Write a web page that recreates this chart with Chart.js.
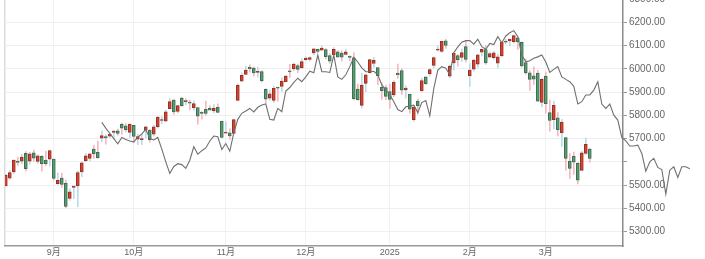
<!DOCTYPE html>
<html>
<head>
<meta charset="utf-8">
<script src="https://cdn.jsdelivr.net/npm/chart.js@4/dist/chart.umd.min.js"></script>
<style>
  html, body { margin: 0; padding: 0; background: #fff; }
  #wrap { width: 705px; height: 259px; }
</style>
</head>
<body>
<div id="wrap"><canvas id="chart" width="705" height="259"></canvas></div>
<script>
// daily candles, 2024-08-15 .. 2025-03-18 (one per trading day)
const opens = [5496,5530,5557,5603,5603,5637,5603,5639,5602,5624,5607,5612,5612,5506,5530,5507,5443,5490,5496,5557,5605,5615,5655,5641,5702,5709,5711,5727,5733,5762,5755,5727,
  5757,5698,5696,5737,5737,5719,5751,5778,5775,5829,5866,5817,5875,5859,5857,5833,5834,5813,5826,5831,5819,5835,5775,
  5723,5725,5722,5864,5947,5976,6008,6004,5985,5989,5912,5874,5864,5919,5925,5945,5992,6000,6015,6004,
  6040,6041,6069,6085,6081,6083,6058,6061,6074,6068,6063,6052,6048,5913,5843,5938,5984,6024,6006,5921,5920,
  5903,5888,5982,5993,5910,5891,5782,5862,5905,5966,5980,6015,6081,6076,6121,5969,6026,6058,6050,6096,
  5970,5999,6021,6072,6083,6051,6049,6025,6057,6116,6121,6117,6134,6115,6027,5983,5970,5982,5856,
  5969,5812,5782,5790,5726,5705,5603,5624,5594,5563,5636,5655];
const highs = [5546,5563,5608,5620,5633,5644,5641,5651,5631,5627,5646,5651,5612,5552,5551,5522,5484,5497,5561,5600,5636,5636,5671,5690,5733,5716,5725,5736,5741,5767,5765,5763,
  5757,5720,5718,5753,5739,5757,5796,5795,5822,5872,5870,5844,5878,5872,5866,5863,5835,5817,5862,5842,5847,5850,5775,
  5772,5742,5784,5936,5983,6012,6018,6009,6008,5993,5915,5909,5925,5922,5962,5972,6020,6025,6021,6044,
  6053,6052,6089,6085,6099,6088,6066,6092,6079,6078,6085,6057,6070,5935,5982,5978,6040,6049,6006,5941,5929,
  5935,5950,6021,6001,5928,5891,5837,5871,5960,5965,6002,6052,6100,6119,6128,6018,6070,6062,6086,6121,
  6023,6042,6062,6084,6101,6073,6076,6064,6116,6127,6129,6147,6134,6116,6043,5993,6009,5994,5959,
  5987,5866,5861,5812,5783,5706,5636,5642,5597,5645,5703,5659];
const lows = [5496,5525,5550,5585,5591,5560,5590,5602,5593,5560,5583,5581,5521,5503,5490,5402,5434,5441,5406,5536,5601,5604,5615,5615,5686,5676,5704,5698,5714,5719,5729,5704,
  5682,5674,5674,5703,5684,5710,5745,5764,5775,5829,5804,5810,5840,5846,5824,5822,5762,5784,5799,5823,5811,5811,5703,
  5723,5697,5722,5864,5947,5976,5986,5969,5965,5944,5853,5865,5855,5861,5903,5945,5963,5992,5984,6004,
  6035,6034,6061,6070,6079,6043,6024,6061,6051,6034,6060,6035,5867,5866,5832,5902,5982,6007,5932,5869,5868,
  5830,5880,5960,5890,5874,5809,5774,5805,5905,5933,5970,6006,6076,6071,6089,5962,5995,6012,6032,6030,
  5924,5991,6007,6056,6020,6049,6042,6004,6051,6108,6100,6111,6084,6008,5977,5908,5933,5859,5837,
  5810,5732,5742,5711,5666,5564,5528,5546,5505,5563,5631,5598];
const closes = [5543,5554,5608,5597,5621,5571,5634,5616,5626,5592,5592,5648,5529,5520,5503,5408,5471,5496,5554,5596,5626,5634,5635,5618,5713,5703,5718,5732,5722,5745,5738,5762,
  5709,5709,5699,5751,5696,5751,5792,5780,5815,5859,5815,5842,5841,5864,5853,5851,5797,5809,5808,5823,5832,5813,5705,
  5728,5712,5782,5929,5973,5995,6001,5983,5985,5949,5870,5893,5917,5917,5948,5969,5987,6021,5998,6032,
  6047,6049,6087,6075,6090,6053,6034,6084,6051,6051,6074,6050,5872,5867,5931,5975,6040,6037,5971,5907,5882,
  5869,5942,5975,5909,5918,5827,5836,5842,5950,5937,5997,6049,6086,6119,6101,6012,6067,6039,6071,6041,
  5995,6038,6061,6084,6026,6066,6069,6052,6115,6115,6129,6144,6118,6013,5983,5955,5956,5861,5955,
  5850,5778,5843,5738,5770,5615,5572,5599,5521,5639,5675,5615];

// grey comparison line, starts at trading day 24 and runs past the last candle
const lineStart = 24;
const lineValues = [5770,5745,5722,5700,5678,5705,5696,5690,5686,5706,5720,5740,5700,5694,5705,5655,5600,5550,5580,5592,
  5588,5572,5607,5665,5633,5648,5660,5690,5711,5708,5653,5679,5646,5725,5783,5809,5819,5830,5815,5835,
  5845,5849,5783,5780,5830,5816,5905,5920,5942,5960,5945,5966,5990,5984,6060,5988,5988,5985,6060,5966,
  5955,5975,6010,6050,6030,6005,5988,5988,5990,5975,5931,5910,5890,5859,5825,5816,5837,5840,5844,5812,
  5855,5864,5798,5916,5995,6010,6003,5975,6070,6095,6115,6122,6122,6107,6128,6096,6085,6110,6105,6139,
  6113,6142,6156,6165,6140,6060,6031,6035,6046,6052,6060,6030,5985,5998,6010,5966,5955,5945,5925,5849,
  5859,5888,5888,5909,5945,5849,5830,5849,5801,5780,5705,5690,5668,5668,5672,5636,5560,5600,5615,5576,
  5567,5461,5564,5579,5533,5579,5579,5570];

const monthTickIdx = [12, 32, 55, 75, 96, 116, 135];
const monthLabels = ['9月', '10月', '11月', '12月', '2025', '2月', '3月'];
const yTicks = [5300, 5400, 5500, 5600, 5700, 5800, 5900, 6000, 6100, 6200, 6300];
const yHiddenLabels = [5600]; // hidden behind the line in the original

const wickData = opens.map((o, i) => ({ x: i, y: [lows[i], highs[i]] }));
const bodyData = opens.map((o, i) => ({ x: i, y: [o, closes[i]] }));
const lineData = lineValues.map((v, k) => ({ x: lineStart + k, y: v }));

const isUp = i => closes[i] >= opens[i];
const FONT = 'Arial, "Liberation Sans", "Noto Sans CJK SC", sans-serif';

new Chart(document.getElementById('chart').getContext('2d'), {
    data: {
        datasets: [{
            type: 'line',
            data: lineData,
            borderColor: '#707070',
            borderWidth: 1.1,
            pointRadius: 0,
            tension: 0,
            clip: false,
            order: 0
        }, {
            type: 'bar',
            data: bodyData,
            grouped: false,
            barThickness: 3,
            minBarLength: 1,
            borderWidth: 1,
            borderSkipped: false,
            backgroundColor: ctx => isUp(ctx.dataIndex) ? '#cf4636' : '#5c9a74',
            borderColor: ctx => isUp(ctx.dataIndex) ? '#9e2d1f' : '#386f4f',
            order: 1
        }, {
            type: 'bar',
            data: wickData,
            grouped: false,
            barThickness: 1,
            backgroundColor: ctx => isUp(ctx.dataIndex) ? '#b8dde8' : '#f5b8c2',
            order: 2
        }]
    },
    options: {
        responsive: false,
        animation: false,
        events: [],
        layout: { padding: { left: 5, top: 0, right: 0, bottom: 0 } },
        plugins: {
            legend: { display: false },
            tooltip: { enabled: false }
        },
        scales: {
            x: {
                type: 'linear',
                bounds: 'data',
                offset: false,
                afterDataLimits: s => { s.min = -0.2; s.max = 154.3; },
                afterBuildTicks: s => {
                    s.ticks = [{ value: -0.2 }].concat(monthTickIdx.map(v => ({ value: v })));
                },
                afterFit: s => { s.height = 13; },
                ticks: {
                    autoSkip: false,
                    maxRotation: 0,
                    padding: 1,
                    color: '#666',
                    font: { family: FONT, size: 9 },
                    callback: v => {
                        const k = monthTickIdx.indexOf(v);
                        return k >= 0 ? monthLabels[k] : '';
                    }
                },
                grid: {
                    offset: false,
                    color: ctx => ctx.index === 0 ? '#dcdcdc' : '#f1f1f1',
                    lineWidth: ctx => ctx.index === 0 ? 1.5 : 1,
                    drawTicks: false
                },
                border: { color: '#9a9a9a', width: 1.5 }
            },
            y: {
                position: 'right',
                min: 5237.6,
                max: 6296.9,
                afterBuildTicks: s => { s.ticks = yTicks.map(v => ({ value: v })); },
                afterFit: s => { s.width = 82; s.paddingTop = 0; s.paddingBottom = 0; },
                ticks: {
                    padding: 2,
                    color: '#666',
                    font: { family: FONT, size: 10 },
                    callback: v => yHiddenLabels.includes(v) ? '' : Number(v).toFixed(2)
                },
                grid: {
                    color: '#efefef',
                    tickColor: '#999',
                    tickLength: 4
                },
                border: { color: '#8a8a8a', width: 1.5 }
            }
        }
    }
});
</script>
</body>
</html>
